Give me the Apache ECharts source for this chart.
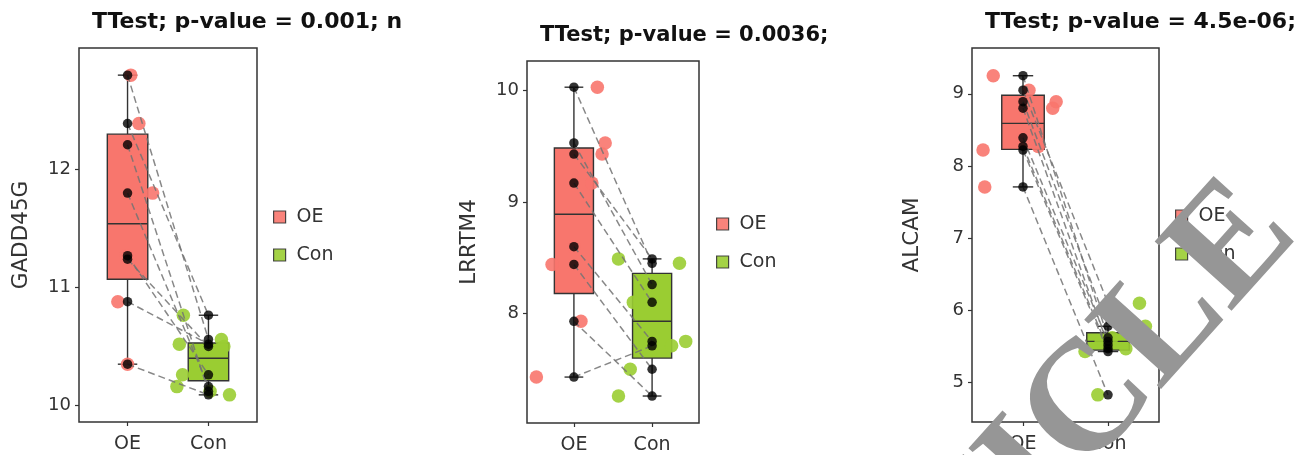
<!DOCTYPE html>
<html>
<head>
<meta charset="utf-8">
<title>Paired expression: OE vs Con</title>
<script src="https://cdn.jsdelivr.net/npm/echarts@6/dist/echarts.min.js"></script>
<style>
  html, body { margin: 0; padding: 0; background: #fff; }
  #chart { width: 1311px; height: 455px; }
</style>
</head>
<body>
<div id="chart"></div>
<script>
// Groups on the x axis
const groups = ['OE', 'Con'];

// GADD45G: paired samples (OE[i] is paired with Con[i])
const gaddOE  = [12.80, 12.39, 12.21, 11.80, 11.27, 11.24, 10.88, 10.35];
const gaddCon = [10.56, 10.765, 10.12, 10.16, 10.26, 10.50, 10.52, 10.09];
const gaddJitterOE  = [0.04, 0.14, 0.01, 0.31, -0.02, 0.03, -0.12, 0.00];
const gaddJitterCon = [0.16, -0.31, 0.02, -0.39, -0.32, 0.19, -0.36, 0.26];
const gaddBoxOE  = [10.35, 11.07, 11.54, 12.30, 12.80];   // min, Q1, median, Q3, max
const gaddBoxCon = [10.09, 10.21, 10.40, 10.53, 10.765];
const gaddRange = [9.86, 13.03];
const gaddTicks = [10, 11, 12];

// LRRTM4
const lrrOE  = [10.03, 9.53, 9.43, 9.17, 8.60, 8.44, 7.93, 7.43];
const lrrCon = [8.45, 8.26, 8.49, 8.10, 7.75, 7.50, 7.26, 7.71];
const lrrJitterOE  = [0.30, 0.40, 0.36, 0.23, 0.00, -0.28, 0.09, -0.48];
const lrrJitterCon = [0.35, 0.00, -0.43, -0.24, 0.43, -0.28, -0.43, 0.25];
const lrrBoxOE  = [7.43, 8.18, 8.89, 9.485, 10.03];
const lrrBoxCon = [7.26, 7.60, 7.93, 8.36, 8.49];
const lrrRange = [7.018, 10.265];
const lrrTicks = [8, 9, 10];

// ALCAM
const alcOE  = [9.25, 9.05, 8.89, 8.80, 8.39, 8.27, 8.22, 7.71];
const alcCon = [5.62, 6.10, 5.78, 5.52, 5.57, 5.47, 5.43, 4.83];
const alcJitterOE  = [-0.35, 0.07, 0.39, 0.35, 0.00, 0.18, -0.47, -0.45];
const alcJitterCon = [0.05, 0.37, 0.44, 0.41, -0.08, 0.21, -0.27, -0.12];
const alcBoxOE  = [7.71, 8.23, 8.59, 8.98, 9.25];
const alcBoxCon = [5.43, 5.45, 5.57, 5.69, 5.78];
const alcRange = [4.454, 9.634];
const alcTicks = [5, 6, 7, 8, 9];

const titles = ['TTest; p-value = 0.001; n', 'TTest; p-value = 0.0036;', 'TTest; p-value = 4.5e-06;'];
const genes = ['GADD45G', 'LRRTM4', 'ALCAM'];

const FONT = 'DejaVu Sans';
const FILL = ['#F8766D', '#9ACD32'];
const DOT = ['#F8766D', '#9ACD32'];
const INK = '#333333';

const panels = [
  { gene: genes[0], title: titles[0], oe: gaddOE, con: gaddCon, jOE: gaddJitterOE, jCon: gaddJitterCon,
    boxOE: gaddBoxOE, boxCon: gaddBoxCon, range: gaddRange, ticks: gaddTicks,
    grid: { left: 79, top: 48, width: 178, height: 374 }, titlePos: { left: 92, top: 11, size: 22 },
    legendPos: { left: 273, top: 207 }, nameGap: 47 },
  { gene: genes[1], title: titles[1], oe: lrrOE, con: lrrCon, jOE: lrrJitterOE, jCon: lrrJitterCon,
    boxOE: lrrBoxOE, boxCon: lrrBoxCon, range: lrrRange, ticks: lrrTicks,
    grid: { left: 527, top: 61, width: 172, height: 363 }, titlePos: { left: 540, top: 25, size: 21 },
    legendPos: { left: 716, top: 214 }, nameGap: 47 },
  { gene: genes[2], title: titles[2], oe: alcOE, con: alcCon, jOE: alcJitterOE, jCon: alcJitterCon,
    boxOE: alcBoxOE, boxCon: alcBoxCon, range: alcRange, ticks: alcTicks,
    grid: { left: 972, top: 48, width: 187, height: 374 }, titlePos: { left: 985, top: 11, size: 22 },
    legendPos: { left: 1175, top: 206 }, nameGap: 49 }
];

// Box with whiskers and caps, drawn on the value x axis
function renderBox(params, api) {
  const x = api.value(0);
  const mn = api.value(1), q1 = api.value(2), md = api.value(3), q3 = api.value(4), mx = api.value(5);
  const half = 0.25, cap = 0.12;
  const tl = api.coord([x - half, q3]);
  const br = api.coord([x + half, q1]);
  const stroke = { stroke: INK, lineWidth: 1.4 };
  const line = (a, b) => {
    const p = api.coord(a), q = api.coord(b);
    return { type: 'line', shape: { x1: p[0], y1: p[1], x2: q[0], y2: q[1] }, style: stroke };
  };
  return {
    type: 'group',
    children: [
      line([x, mx], [x, q3]),
      line([x, q1], [x, mn]),
      line([x - cap, mx], [x + cap, mx]),
      line([x - cap, mn], [x + cap, mn]),
      { type: 'rect', shape: { x: tl[0], y: tl[1], width: br[0] - tl[0], height: br[1] - tl[1] },
        style: { fill: FILL[params.dataIndex], stroke: INK, lineWidth: 1.4 } },
      line([x - half, md], [x + half, md])
    ]
  };
}

// Diagonal watermark across the right-hand panel
const markAngle = 48 * Math.PI / 180;

const option = {
  animation: false,
  backgroundColor: '#ffffff',
  textStyle: { fontFamily: FONT },
  title: [], grid: [], xAxis: [], yAxis: [], legend: [], series: [],
  graphic: [{
    type: 'text',
    x: 1270, y: 207,
    rotation: markAngle,
    z: 100,
    style: {
      text: 'RETRACTED ARTICLE',
      x: 0, y: 0,
      textAlign: 'right',
      textVerticalAlign: 'middle',
      fontFamily: 'Liberation Serif',
      fontWeight: 'bold',
      fontSize: 158,
      fill: '#969696'
    }
  }]
};

panels.forEach((p, i) => {
  option.title.push({
    text: p.title, left: p.titlePos.left, top: p.titlePos.top, padding: 0,
    textStyle: { fontFamily: FONT, fontWeight: 'bold', fontSize: p.titlePos.size, color: '#111' }
  });
  option.grid.push(Object.assign({
    show: true, borderColor: INK, borderWidth: 1.5, backgroundColor: 'transparent', containLabel: false
  }, p.grid));
  option.xAxis.push({
    gridIndex: i, type: 'value', min: 0.4, max: 2.6,
    axisLine: { show: false }, splitLine: { show: false },
    axisTick: { show: true, customValues: [1, 2], length: 4, lineStyle: { color: INK, width: 1.2 } },
    axisLabel: { customValues: [1, 2], formatter: v => groups[Math.round(v) - 1], fontSize: 19, color: INK, margin: 13, fontFamily: FONT }
  });
  option.yAxis.push({
    gridIndex: i, type: 'value', min: p.range[0], max: p.range[1],
    name: p.gene, nameLocation: 'middle', nameRotate: 90, nameGap: p.nameGap,
    nameTextStyle: { fontSize: 21.5, color: INK, fontFamily: FONT },
    axisLine: { show: false }, splitLine: { show: false },
    axisTick: { show: true, customValues: p.ticks, length: 4, lineStyle: { color: INK, width: 1.2 } },
    axisLabel: { customValues: p.ticks, formatter: v => String(Math.round(v)), fontSize: 18, color: INK, margin: 8, fontFamily: FONT }
  });
  option.legend.push({
    orient: 'vertical', left: p.legendPos.left, top: p.legendPos.top, padding: 0,
    itemWidth: 12, itemHeight: 12, itemGap: 18, selectedMode: false,
    textStyle: { fontSize: 19, color: INK, fontFamily: FONT, lineHeight: 20, padding: [0, 0, 0, 6] },
    data: groups.map((g, k) => ({ name: g, icon: 'rect', itemStyle: { color: FILL[k], borderColor: INK, borderWidth: 1.2 } }))
  });

  // boxes
  option.series.push({
    type: 'custom', xAxisIndex: i, yAxisIndex: i, z: 2, silent: true,
    renderItem: renderBox,
    encode: { x: 0, y: [1, 2, 3, 4, 5] },
    data: [[1].concat(p.boxOE), [2].concat(p.boxCon)]
  });
  // jittered coloured points
  option.series.push({
    name: 'OE', type: 'scatter', xAxisIndex: i, yAxisIndex: i, z: 3, symbolSize: 13.5,
    itemStyle: { color: DOT[0], opacity: 0.9 },
    data: p.oe.map((v, k) => [1 + p.jOE[k], v])
  });
  option.series.push({
    name: 'Con', type: 'scatter', xAxisIndex: i, yAxisIndex: i, z: 3, symbolSize: 13.5,
    itemStyle: { color: DOT[1], opacity: 0.9 },
    data: p.con.map((v, k) => [2 + p.jCon[k], v])
  });
  // pairing lines
  option.series.push({
    type: 'lines', coordinateSystem: 'cartesian2d', xAxisIndex: i, yAxisIndex: i, z: 4, silent: true,
    lineStyle: { color: '#737373', width: 1.5, type: [7, 4], opacity: 0.85 },
    data: p.oe.map((v, k) => ({ coords: [[1, v], [2, p.con[k]]] }))
  });
  // sample points on the group centre
  option.series.push({
    type: 'scatter', xAxisIndex: i, yAxisIndex: i, z: 5, symbolSize: 9.5,
    itemStyle: { color: '#000' },
    data: p.oe.map(v => [1, v]).concat(p.con.map(v => [2, v]))
  });
});

const chart = echarts.init(document.getElementById('chart'), null, { renderer: 'canvas' });
chart.setOption(option);
</script>
</body>
</html>
